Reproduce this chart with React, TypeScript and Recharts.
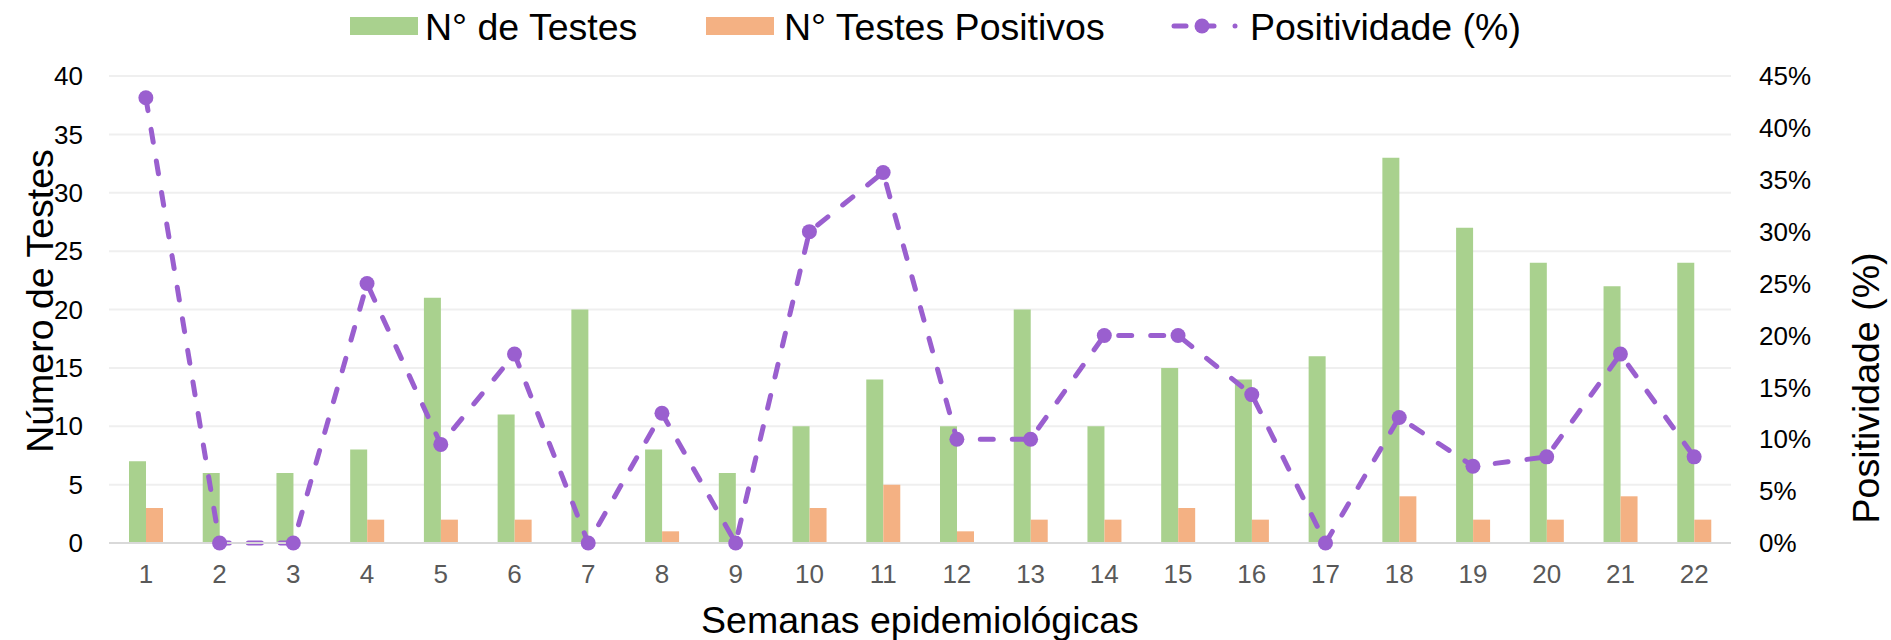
import React from 'react';
import {
  ComposedChart,
  Bar,
  Line,
  XAxis,
  YAxis,
  CartesianGrid,
  Legend,
} from 'recharts';

const weeks = ['1','2','3','4','5','6','7','8','9','10','11','12','13','14','15','16','17','18','19','20','21','22'];
const tests = [7, 6, 6, 8, 21, 11, 20, 8, 6, 10, 14, 10, 20, 10, 15, 14, 16, 33, 27, 24, 22, 24];
const positives = [3, 0, 0, 2, 2, 2, 0, 1, 0, 3, 5, 1, 2, 2, 3, 2, 0, 4, 2, 2, 4, 2];
const positivity = [42.9, 0, 0, 25, 9.5, 18.2, 0, 12.5, 0, 30, 35.7, 10, 10, 20, 20, 14.3, 0, 12.1, 7.4, 8.3, 18.2, 8.3];
const leftTicks = [0, 5, 10, 15, 20, 25, 30, 35, 40];
const rightTicks = [0, 5, 10, 15, 20, 25, 30, 35, 40, 45];

const data = weeks.map((w, i) => ({
  week: w,
  tests: tests[i],
  positives: positives[i],
  positivity: positivity[i],
}));

const GREEN = '#A9D18E';
const ORANGE = '#F4B183';
const PURPLE = '#9A5FCF';
const FONT = '"Liberation Sans", Arial, sans-serif';
const TITLE_SIZE = 37.5;

const legendPos: Record<string, { icon: number; text: number }> = {
  tests: { icon: 350, text: 425 },
  positives: { icon: 706, text: 784 },
  positivity: { icon: 1170, text: 1250 },
};

const LegendContent = (props: any) => {
  const payload = props.payload || [];
  return (
    <div style={{ position: 'relative', width: 1891, height: 60, fontFamily: FONT }}>
      {payload.map((p: any, i: number) => {
        const key = p.dataKey as string;
        const pos = legendPos[key] || legendPos.tests;
        const isLine = key === 'positivity';
        return (
          <React.Fragment key={i}>
            {isLine ? (
              <svg style={{ position: 'absolute', left: pos.icon, top: 14 }} width={70} height={24}>
                <line x1={4} y1={12} x2={16} y2={12} stroke={PURPLE} strokeWidth={5} strokeLinecap="round" />
                <line x1={30} y1={12} x2={44} y2={12} stroke={PURPLE} strokeWidth={5} strokeLinecap="round" />
                <circle cx={32} cy={12} r={7.5} fill={PURPLE} />
                <circle cx={65} cy={12} r={2.5} fill={PURPLE} />
              </svg>
            ) : (
              <div
                style={{
                  position: 'absolute',
                  left: pos.icon,
                  top: 17,
                  width: 68,
                  height: 18,
                  background: p.color,
                }}
              />
            )}
            <div
              style={{
                position: 'absolute',
                left: pos.text,
                top: 4,
                fontSize: TITLE_SIZE,
                lineHeight: '46px',
                color: '#000',
                whiteSpace: 'nowrap',
              }}
            >
              {p.value}
            </div>
          </React.Fragment>
        );
      })}
    </div>
  );
};

const LeftTitle = () => (
  <text
    x={40}
    y={301}
    transform="rotate(-90 40 301)"
    textAnchor="middle"
    dominantBaseline="central"
    fontSize={TITLE_SIZE}
    fill="#000"
    fontFamily={FONT}
  >
    Número de Testes
  </text>
);

const RightTitle = () => (
  <text
    x={1866}
    y={388}
    transform="rotate(-90 1866 388)"
    textAnchor="middle"
    dominantBaseline="central"
    fontSize={TITLE_SIZE}
    fill="#000"
    fontFamily={FONT}
  >
    Positividade (%)
  </text>
);

const BottomTitle = () => (
  <text
    x={920}
    y={620}
    textAnchor="middle"
    dominantBaseline="central"
    fontSize={TITLE_SIZE}
    fill="#000"
    fontFamily={FONT}
  >
    Semanas epidemiológicas
  </text>
);

export default function App() {
  return (
    <div style={{ position: 'absolute', left: 0, top: 0, width: 1891, height: 640, background: '#fff' }}>
      <ComposedChart
        width={1891}
        height={640}
        data={data}
        margin={{ top: 16, right: 0, bottom: 0, left: 0 }}
        barGap={0}
        style={{ fontFamily: FONT }}
      >
        <CartesianGrid yAxisId="left" vertical={false} stroke="#EFEFEF" strokeWidth={2} />
        <XAxis
          dataKey="week"
          interval={0}
          height={97}
          tickLine={false}
          axisLine={{ stroke: '#D9D9D9', strokeWidth: 2 }}
          tick={{ fontSize: 26, fill: '#595959' }}
          tickMargin={16}
          label={<BottomTitle />}
        />
        <YAxis
          yAxisId="left"
          domain={[0, 40]}
          ticks={leftTicks}
          width={109}
          tickLine={false}
          axisLine={false}
          tick={{ fontSize: 26, fill: '#000' }}
          tickMargin={20}
          label={<LeftTitle />}
        />
        <YAxis
          yAxisId="right"
          orientation="right"
          domain={[0, 45]}
          ticks={rightTicks}
          width={160}
          tickLine={false}
          axisLine={false}
          tick={{ fontSize: 26, fill: '#000' }}
          tickMargin={22}
          tickFormatter={(v: number) => `${v}%`}
          label={<RightTitle />}
        />
        <Legend
          verticalAlign="top"
          align="left"
          content={<LegendContent />}
          wrapperStyle={{ top: 0, left: 0, width: 1891, height: 60 }}
        />
        <Bar yAxisId="left" dataKey="tests" name="N° de Testes" fill={GREEN} barSize={17} isAnimationActive={false} />
        <Bar yAxisId="left" dataKey="positives" name="N° Testes Positivos" fill={ORANGE} barSize={17} isAnimationActive={false} />
        <Line
          yAxisId="right"
          dataKey="positivity"
          name="Positividade (%)"
          stroke={PURPLE}
          strokeWidth={5}
          strokeDasharray="13 19"
          strokeLinecap="round"
          dot={{ r: 7.5, fill: PURPLE, stroke: 'none' }}
          activeDot={false}
          isAnimationActive={false}
        />
      </ComposedChart>
    </div>
  );
}
